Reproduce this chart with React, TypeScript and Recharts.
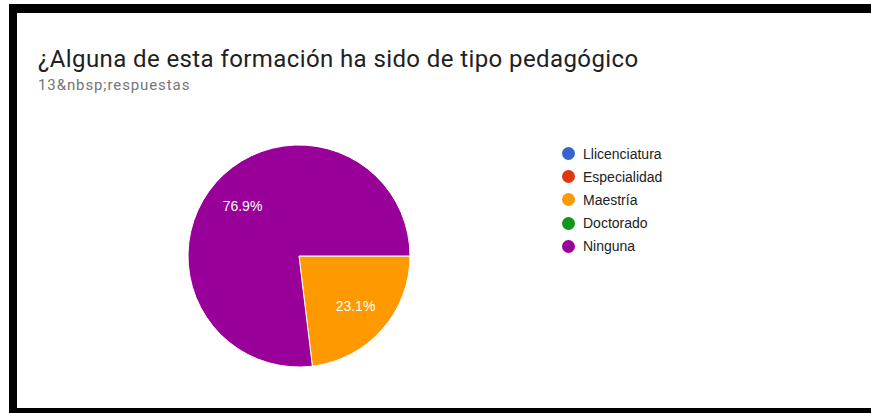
import { PieChart, Pie, Cell } from 'recharts'

const categories = ['Llicenciatura', 'Especialidad', 'Maestría', 'Doctorado', 'Ninguna']
const counts = [0, 0, 3, 0, 10]
const colors = ['#3366cc', '#dc3912', '#ff9900', '#109618', '#990099']

const TITLE = '¿Alguna de esta formación ha sido de tipo pedagógico'
const SUBTITLE = '13&nbsp;respuestas'

const data = categories.map((name, i) => ({ name, value: counts[i] }))

const RAD = Math.PI / 180

// percentage label inside the slice, like the Google Forms summary
function sliceLabel(props: any) {
  const { cx, cy, midAngle, outerRadius, percent } = props
  if (!percent) return null
  const r = outerRadius * 0.68
  const x = cx + r * Math.cos(-midAngle * RAD)
  const y = cy + r * Math.sin(-midAngle * RAD)
  return (
    <text
      x={x}
      y={y}
      fill="#ffffff"
      fontSize={14}
      fontFamily="'Liberation Sans', Arial, sans-serif"
      textAnchor="middle"
      dominantBaseline="central"
    >
      {(percent * 100).toFixed(1)}%
    </text>
  )
}

export default function App() {
  return (
    <div
      style={{
        position: 'fixed',
        left: 0,
        top: 0,
        width: 871,
        height: 413,
        background: '#ffffff',
        overflow: 'hidden',
      }}
    >
      {/* black frame of the screenshot */}
      <div style={{ position: 'absolute', left: 9, top: 4, width: 862, height: 9, background: '#000' }} />
      <div style={{ position: 'absolute', left: 9, top: 4, width: 8, height: 409, background: '#000' }} />
      <div style={{ position: 'absolute', left: 9, top: 408, width: 862, height: 5, background: '#000' }} />

      <div
        style={{
          position: 'absolute',
          left: 38,
          top: 47,
          fontFamily: 'Roboto, sans-serif',
          fontSize: 24,
          lineHeight: '24px',
          letterSpacing: 0.4,
          color: '#212121',
          whiteSpace: 'nowrap',
        }}
      >
        {TITLE}
      </div>
      <div
        style={{
          position: 'absolute',
          left: 38,
          top: 78,
          fontFamily: 'Roboto, sans-serif',
          fontSize: 15,
          lineHeight: '15px',
          letterSpacing: 0.9,
          color: '#757575',
          whiteSpace: 'nowrap',
        }}
      >
        {SUBTITLE}
      </div>

      <div style={{ position: 'absolute', left: 0, top: 0 }}>
        <PieChart width={871} height={413}>
          <Pie
            data={data}
            dataKey="value"
            nameKey="name"
            cx={294}
            cy={251}
            outerRadius={111}
            startAngle={0}
            endAngle={-360}
            stroke="#ffffff"
            strokeWidth={1}
            labelLine={false}
            label={sliceLabel}
            isAnimationActive={false}
          >
            {data.map((d, i) => (
              <Cell key={d.name} fill={colors[i]} />
            ))}
          </Pie>
        </PieChart>
      </div>

      {/* legend */}
      <div style={{ position: 'absolute', left: 562, top: 142 }}>
        {categories.map((name, i) => (
          <div
            key={name}
            style={{
              display: 'flex',
              alignItems: 'center',
              height: 23.2,
              fontFamily: "'Liberation Sans', Arial, sans-serif",
              fontSize: 14,
              color: '#222222',
            }}
          >
            <span
              style={{
                display: 'inline-block',
                width: 13,
                height: 13,
                borderRadius: '50%',
                background: colors[i],
                marginRight: 8,
              }}
            />
            {name}
          </div>
        ))}
      </div>
    </div>
  )
}
